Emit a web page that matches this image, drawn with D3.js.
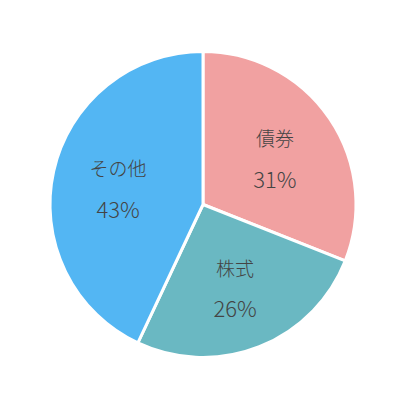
<!DOCTYPE html>
<html><head><meta charset="utf-8">
<script src="https://cdn.jsdelivr.net/npm/d3@7"></script>
<style>body{margin:0;background:#fff}svg{display:block}</style>
</head><body>
<svg id="c" width="406" height="413"></svg>
<script>
const categories = ["債券", "株式", "その他"];
const values = [31, 26, 43];
const colors = ["#F1A1A1", "#6AB8C2", "#53B6F3"];

const svg = d3.select("#c");
const cx = 203, cy = 204.5, R = 153;
const g = svg.append("g").attr("transform", `translate(${cx},${cy})`);
const data = categories.map((c, i) => ({cat: c, val: values[i], color: colors[i]}));
const pie = d3.pie().value(d => d.val).sort(null);
const arc = d3.arc().innerRadius(0).outerRadius(R);
const labelArc = d3.arc().innerRadius(87).outerRadius(87);
const arcs = pie(data);
g.selectAll("path").data(arcs).join("path")
  .attr("d", arc).attr("fill", d => d.data.color)
  .attr("stroke", "#fff").attr("stroke-width", 3).attr("stroke-linejoin", "round");
const lab = g.selectAll("g.lab").data(arcs).join("g").attr("class", "lab")
  .attr("transform", d => { const [x, y] = labelArc.centroid(d); return `translate(${x},${y + 2})`; });
const font = "'Noto Sans CJK JP', sans-serif";
lab.append("text").attr("text-anchor", "middle").attr("y", -20)
  .attr("font-family", font).attr("font-size", 19).attr("font-weight", 300)
  .attr("fill", "#444").attr("dominant-baseline", "central").text(d => d.data.cat);
lab.append("text").attr("text-anchor", "middle").attr("y", 20)
  .attr("font-family", font).attr("font-size", 22).attr("font-weight", 300)
  .attr("fill", "#444").attr("dominant-baseline", "central").text(d => d.data.val + "%");
</script>
</body></html>
